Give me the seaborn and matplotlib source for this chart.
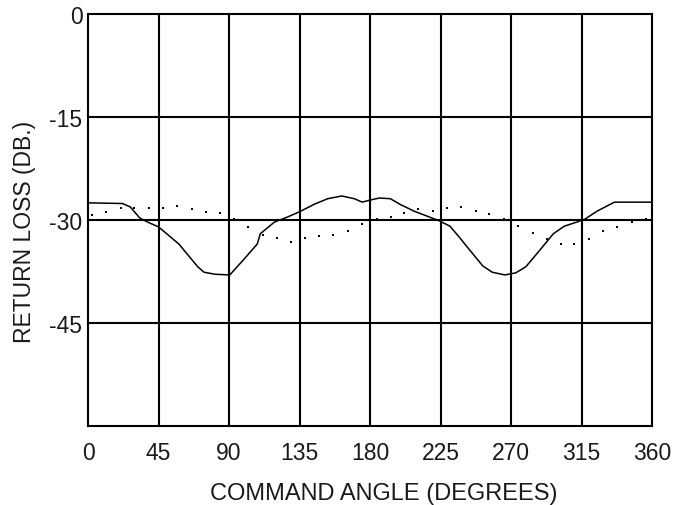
import numpy as np
import pandas as pd
import matplotlib
matplotlib.use("Agg")
import matplotlib.pyplot as plt
import seaborn as sns

# === Data ===
solid_angle = [0, 22, 27, 33, 38, 45, 58, 70, 74, 81, 90.5, 100, 108, 110, 119, 127, 135,
               144.5, 153, 162, 170, 175, 180, 186, 193, 199, 208, 216, 224, 231, 237,
               243, 252, 258, 266, 273, 279.5, 288, 297, 304, 312, 317, 325, 336, 360]
solid_db = [-27.5, -27.6, -28.1, -29.7, -30.3, -31.0, -33.5, -36.8, -37.6, -37.9, -38.0, -35.6, -33.5,
            -32.0, -30.3, -29.6, -28.8, -27.7, -26.9, -26.5, -26.9, -27.4, -27.1, -26.8, -26.9,
            -27.7, -28.7, -29.4, -30.1, -30.9, -32.5, -34.2, -36.7, -37.6, -38.0, -37.7, -36.8,
            -34.5, -32.0, -30.9, -30.3, -29.9, -28.7, -27.4, -27.4]

dot_angle = [2.6, 11.5, 21, 29.4, 38.9, 47.9, 56.8, 66.4, 75.3, 84.3, 93.2, 102, 111.7, 120.6,
             129.6, 138.5, 147.4, 156.4, 165.9, 174.9, 184.4, 193.4, 201.7, 210.6, 220.2, 229.1,
             238, 247.6, 255.9, 265.5, 274.4, 284, 292.9, 301.8, 310, 319.6, 328.7, 337.7, 347, 356]
dot_db = [-29.3, -28.8, -28.3, -28.3, -28.3, -28.3, -28.0, -28.4, -28.8, -29.0, -29.9, -31.0,
          -32.2, -32.6, -33.2, -32.6, -32.4, -32.2, -31.6, -30.6, -29.9, -29.6, -29.0, -28.4,
          -28.7, -28.3, -28.1, -28.7, -29.1, -29.9, -30.9, -31.9, -32.8, -33.5, -33.5, -32.8,
          -31.6, -31.0, -30.3, -29.9]

x_ticks = [0, 45, 90, 135, 180, 225, 270, 315, 360]
y_ticks = [0, -15, -30, -45]

solid_df = pd.DataFrame({"angle": solid_angle, "db": solid_db})
dot_df = pd.DataFrame({"angle": dot_angle, "db": dot_db})

# === Style ===
sns.set_style("white")
plt.rcParams["font.family"] = ["Liberation Sans", "DejaVu Sans"]

fig = plt.figure(figsize=(6.78, 5.06), dpi=100)
ax = fig.add_axes([0.1298, 0.1561, 0.8319, 0.8143])

# === Plot ===
sns.lineplot(data=solid_df, x="angle", y="db", ax=ax, color="black", linewidth=1.1)
sns.scatterplot(data=dot_df, x="angle", y="db", ax=ax, color="black", s=3.5, marker="s",
                linewidth=0)

ax.set_xlim(0, 360)
ax.set_ylim(-60, 0)
ax.set_xticks(x_ticks)
ax.set_yticks(y_ticks)
ax.set_xticklabels([str(v) for v in x_ticks])
ax.set_yticklabels([str(v) for v in y_ticks])

for v in x_ticks[1:-1]:
    ax.axvline(v, color="black", linewidth=1.5, zorder=0)
for v in y_ticks[1:]:
    ax.axhline(v, color="black", linewidth=1.5, zorder=0)

for s in ax.spines.values():
    s.set_color("black")
    s.set_linewidth(1.5)

ax.tick_params(axis="both", length=0, labelsize=16.5, colors="#1a1a1a")
ax.tick_params(axis="x", pad=11)
ax.tick_params(axis="y", pad=4)

ax.set_xlabel("COMMAND ANGLE (DEGREES)", fontsize=17, color="#1a1a1a")
ax.set_ylabel("RETURN LOSS (DB.)", fontsize=16.5, color="#1a1a1a")
ax.xaxis.set_label_coords(0.525, -0.137)
ax.yaxis.set_label_coords(-0.092, 0.473)

fig.savefig("out.png", dpi=100)
